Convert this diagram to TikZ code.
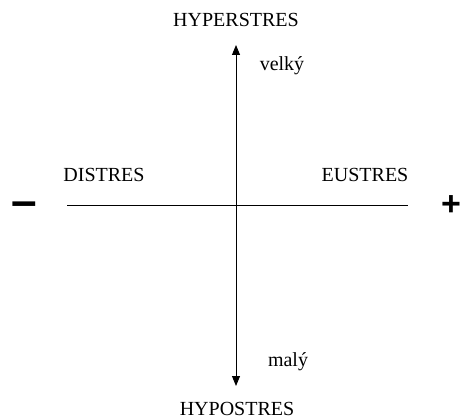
\documentclass[tikz,border=0pt]{standalone}
\usepackage{fontspec}
\setmainfont{Liberation Serif}
\newfontfamily\signfont{Liberation Sans}
\usetikzlibrary{arrows.meta}
\begin{document}
\begin{tikzpicture}[x=1pt,y=-1pt,
  lbl/.style={font=\fontsize{20}{24}\selectfont, inner sep=0pt},
  sgn/.style={font=\signfont\bfseries\fontsize{34}{38}\selectfont, inner sep=0pt},
  axis/.style={line width=0.9pt},
  tip/.style={-{Triangle[length=10pt,width=8pt]}}]
\useasboundingbox (0,0) rectangle (462,419);
\coordinate (top) at (236,45);
\coordinate (bot) at (236,386);
\coordinate (vs) at (236,215);
\coordinate (left) at (67,205);
\coordinate (right) at (408,205);
\draw[axis,tip] (vs) -- (top);
\draw[axis,tip] (vs) -- (bot);
\draw[axis] (left) -- (right);
\node[lbl] (hyper) at (236,20) {HYPERSTRES};
\node[lbl] (hypo) at (237,409) {HYPOSTRES};
\node[lbl] (velky) at (282,66) {velký};
\node[lbl] (maly) at (288,362) {malý};
\node[lbl] (dis) at (104,175) {DISTRES};
\node[lbl] (eu) at (365,175) {EUSTRES};
\node[sgn, font=\signfont\bfseries\fontsize{46}{50}\selectfont, anchor=base] (minus) at (24,217) {–};
\node[sgn] (plus) at (451,206) {+};
\end{tikzpicture}
\end{document}
